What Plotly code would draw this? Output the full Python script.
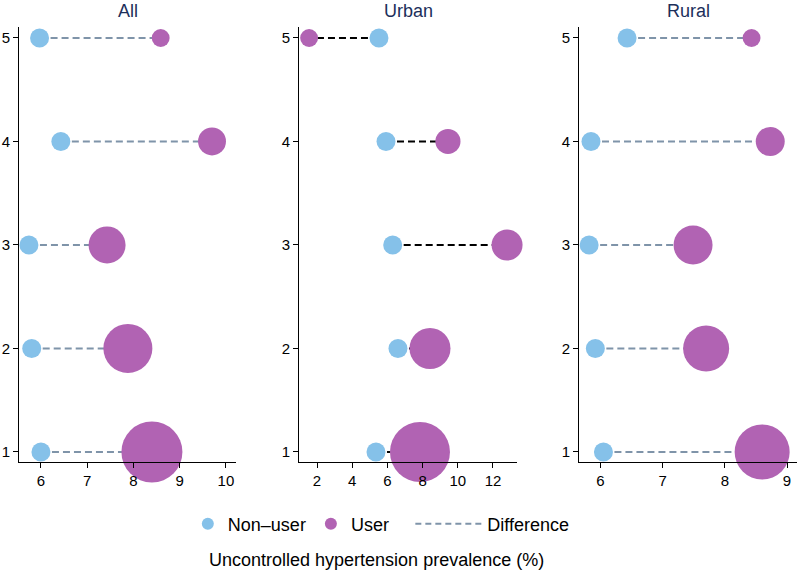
import plotly.graph_objects as go

# ---- data ----
panels = ["All", "Urban", "Rural"]
rows = [1, 2, 3, 4, 5]

nonuser_all = [6.0, 5.8, 5.74, 6.43, 5.97]
user_all = [8.4, 7.88, 7.43, 9.7, 8.59]
weight_all = [37.2, 24.0, 13.7, 7.8, 3.2]

nonuser_urban = [5.35, 6.6, 6.3, 5.92, 5.52]
user_urban = [7.85, 8.42, 12.8, 9.44, 1.55]
weight_urban = [36.0, 16.8, 9.6, 6.3, 3.2]

nonuser_rural = [6.05, 5.92, 5.82, 5.85, 6.43]
user_rural = [8.6, 7.7, 7.49, 8.73, 8.43]
weight_rural = [30.3, 21.2, 15.2, 8.4, 3.2]

x_ticks_all = [6, 7, 8, 9, 10]
x_ticks_urban = [2, 4, 6, 8, 10, 12]
x_ticks_rural = [6, 7, 8, 9]

# ---- styles ----
C_NON = "#85c1e9"
C_USER = "#b163b3"
C_DIFF = "#7f94a9"
FONT = "Liberation Sans, Arial, sans-serif"

panel_data = [
    (nonuser_all, user_all, weight_all, x_ticks_all, [5.525, 10.22], C_DIFF, [0.0, 0.279]),
    (nonuser_urban, user_urban, weight_urban, x_ticks_urban, [0.98, 13.36], "#000000", [0.36, 0.64]),
    (nonuser_rural, user_rural, weight_rural, x_ticks_rural, [5.66, 9.16], C_DIFF, [0.72, 1.0]),
]

fig = go.Figure()
for i, (non, usr, wt, xt, xr, lc, dom) in enumerate(panel_data):
    xa = "x" if i == 0 else f"x{i+1}"
    ya = "y" if i == 0 else f"y{i+1}"
    lx, ly = [], []
    for r, a, b in zip(rows, non, usr):
        lx += [a, b, None]
        ly += [r, r, None]
    fig.add_trace(go.Scatter(x=lx, y=ly, mode="lines", xaxis=xa, yaxis=ya,
                             line=dict(color=lc, width=2, dash="7px,4px"),
                             showlegend=False, hoverinfo="skip"))
    fig.add_trace(go.Scatter(x=non, y=rows, mode="markers", xaxis=xa, yaxis=ya,
                             marker=dict(color=C_NON, size=19, opacity=1, line=dict(width=0)),
                             showlegend=False, cliponaxis=False))
    fig.add_trace(go.Scatter(x=usr, y=rows, mode="markers", xaxis=xa, yaxis=ya,
                             marker=dict(color=C_USER, size=wt, sizemode="area", sizeref=0.02,
                                         opacity=1, line=dict(width=0)),
                             showlegend=False, cliponaxis=False))
    axis_common = dict(showgrid=False, zeroline=False, showline=True, linecolor="black",
                       linewidth=1, ticks="outside", ticklen=5, tickcolor="black",
                       tickfont=dict(size=15, color="black", family=FONT), automargin=False)
    fig.layout[("xaxis" if i == 0 else f"xaxis{i+1}")] = dict(
        domain=dom, range=xr, tickvals=xt, anchor=ya, **axis_common)
    fig.layout[("yaxis" if i == 0 else f"yaxis{i+1}")] = dict(
        domain=[0, 1], range=[0.903, 5.106], tickvals=rows, anchor=xa, **axis_common)
    fig.add_annotation(text=panels[i], x=(dom[0] + dom[1]) / 2, y=1.0, xref="paper", yref="paper",
                       xanchor="center", yanchor="bottom", yshift=4, showarrow=False,
                       font=dict(size=18, color="#1c2f5b", family=FONT))

# legend entries
fig.add_trace(go.Scatter(x=[None], y=[None], mode="markers", name="Non\u2013user",
                         marker=dict(color=C_NON, size=12), legend="legend"))
fig.add_trace(go.Scatter(x=[None], y=[None], mode="markers", name="User",
                         marker=dict(color=C_USER, size=12), legend="legend"))
fig.add_trace(go.Scatter(x=[None], y=[None], mode="lines", name="Difference",
                         line=dict(color=C_DIFF, width=2, dash="6px,4px"), legend="legend2"))

fig.add_annotation(text="Uncontrolled hypertension prevalence (%)", x=0.46, y=-0.225,
                   xref="paper", yref="paper", xanchor="center", yanchor="middle",
                   showarrow=False, font=dict(size=18, color="black", family=FONT))

fig.update_layout(
    width=800, height=571,
    margin=dict(l=19, r=3, t=27, b=109),
    paper_bgcolor="white", plot_bgcolor="white",
    font=dict(family=FONT, color="black"),
    legend=dict(orientation="h", x=0.217, xanchor="left", y=-0.1425, yanchor="middle",
                font=dict(size=18, color="black", family=FONT),
                bgcolor="rgba(0,0,0,0)"),
    legend2=dict(orientation="h", x=0.503, xanchor="left", y=-0.1425, yanchor="middle",
                 font=dict(size=18, color="black", family=FONT), itemwidth=67,
                 bgcolor="rgba(0,0,0,0)"),
)

fig.write_html("out.html", config={"displayModeBar": False},
               post_script="document.body.style.margin='0';")
